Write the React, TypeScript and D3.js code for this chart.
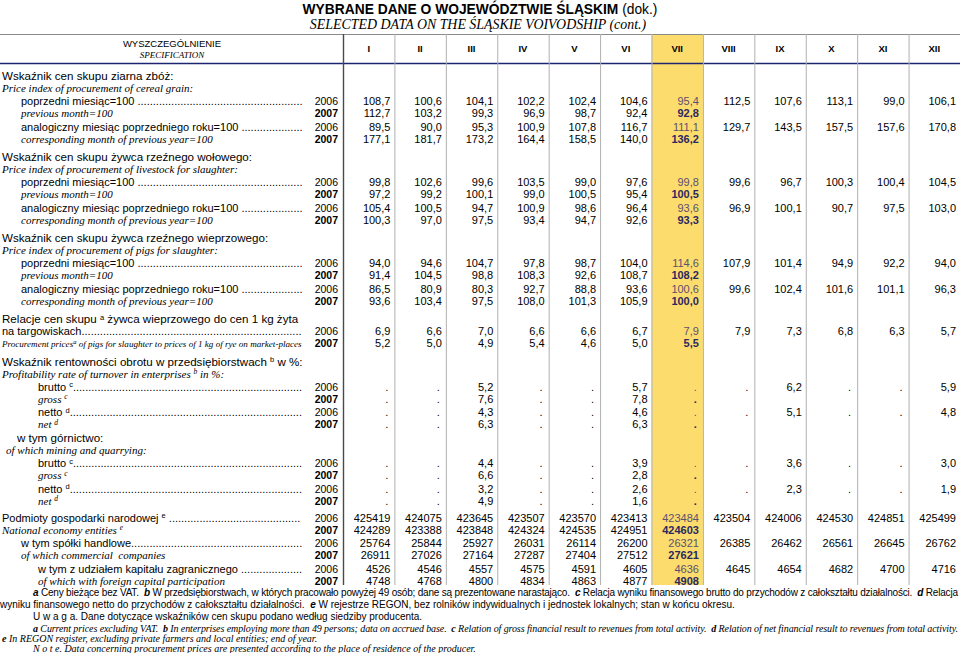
import React from 'react';
import * as d3 from 'd3';

// ---------- categories ----------
const MONTHS = ['I', 'II', 'III', 'IV', 'V', 'VI', 'VII', 'VIII', 'IX', 'X', 'XI', 'XII'];
const HIGHLIGHT = 'VII';
const YEARS = ['2006', '2007'];

// ---------- series values (null = "." data not available) ----------
const cerealPrev2006 = [108.7, 100.6, 104.1, 102.2, 102.4, 104.6, 95.4, 112.5, 107.6, 113.1, 99.0, 106.1];
const cerealPrev2007 = [112.7, 103.2, 99.3, 96.9, 98.7, 92.4, 92.8];
const cerealCorr2006 = [89.5, 90.0, 95.3, 100.9, 107.8, 116.7, 111.1, 129.7, 143.5, 157.5, 157.6, 170.8];
const cerealCorr2007 = [177.1, 181.7, 173.2, 164.4, 158.5, 140.0, 136.2];
const cattlePrev2006 = [99.8, 102.6, 99.6, 103.5, 99.0, 97.6, 99.8, 99.6, 96.7, 100.3, 100.4, 104.5];
const cattlePrev2007 = [97.2, 99.2, 100.1, 99.0, 100.5, 95.4, 100.5];
const cattleCorr2006 = [105.4, 100.5, 94.7, 100.9, 98.6, 96.4, 93.6, 96.9, 100.1, 90.7, 97.5, 103.0];
const cattleCorr2007 = [100.3, 97.0, 97.5, 93.4, 94.7, 92.6, 93.3];
const pigsPrev2006 = [94.0, 94.6, 104.7, 97.8, 98.7, 104.0, 114.6, 107.9, 101.4, 94.9, 92.2, 94.0];
const pigsPrev2007 = [91.4, 104.5, 98.8, 108.3, 92.6, 108.7, 108.2];
const pigsCorr2006 = [86.5, 80.9, 80.3, 92.7, 88.8, 93.6, 100.6, 99.6, 102.4, 101.6, 101.1, 96.3];
const pigsCorr2007 = [93.6, 103.4, 97.5, 108.0, 101.3, 105.9, 100.0];
const pigRye2006 = [6.9, 6.6, 7.0, 6.6, 6.6, 6.7, 7.9, 7.9, 7.3, 6.8, 6.3, 5.7];
const pigRye2007 = [5.2, 5.0, 4.9, 5.4, 4.6, 5.0, 5.5];
const grossAll2006 = [null, null, 5.2, null, null, 5.7, null, null, 6.2, null, null, 5.9];
const grossAll2007 = [null, null, 7.6, null, null, 7.8, null];
const netAll2006 = [null, null, 4.3, null, null, 4.6, null, null, 5.1, null, null, 4.8];
const netAll2007 = [null, null, 6.3, null, null, 6.3, null];
const grossMining2006 = [null, null, 4.4, null, null, 3.9, null, null, 3.6, null, null, 3.0];
const grossMining2007 = [null, null, 6.6, null, null, 2.8, null];
const netMining2006 = [null, null, 3.2, null, null, 2.6, null, null, 2.3, null, null, 1.9];
const netMining2007 = [null, null, 4.9, null, null, 1.6, null];
const entities2006 = [425419, 424075, 423645, 423507, 423570, 423413, 423484, 423504, 424006, 424530, 424851, 425499];
const entities2007 = [424289, 423388, 423848, 424324, 424535, 424951, 424603];
const commercial2006 = [25764, 25844, 25927, 26031, 26114, 26200, 26321, 26385, 26462, 26561, 26645, 26762];
const commercial2007 = [26911, 27026, 27164, 27287, 27404, 27512, 27621];
const foreign2006 = [4526, 4546, 4557, 4575, 4591, 4605, 4636, 4645, 4654, 4682, 4700, 4716];
const foreign2007 = [4748, 4768, 4800, 4834, 4863, 4877, 4908];

// ---------- texts ----------
const TITLE_PL = 'WYBRANE DANE O WOJEWÓDZTWIE ŚLĄSKIM';
const TITLE_PL_SUFFIX = '(dok.)';
const TITLE_EN = 'SELECTED DATA ON THE ŚLĄSKIE VOIVODSHIP (cont.)';
const HEAD_PL = 'WYSZCZEGÓLNIENIE';
const HEAD_EN = 'SPECIFICATION';

const FN_PL = [
  '*a* Ceny bieżące bez VAT.  *b* W przedsiębiorstwach, w których pracowało powyżej 49 osób; dane są prezentowane narastająco.  *c* Relacja wyniku finansowego brutto do przychodów z całokształtu działalności.  *d* Relacja',
  'wyniku finansowego netto do przychodów z całokształtu działalności.  *e* W rejestrze REGON, bez rolników indywidualnych i jednostek lokalnych; stan w końcu okresu.',
  'U w a g a. Dane dotyczące wskaźników cen skupu podano według siedziby producenta.',
];
const FN_EN = [
  '*a* Current prices excluding VAT.  *b* In enterprises employing more than 49 persons; data on accrued base.  *c* Relation of gross financial result to revenues from total activity.  *d* Relation of net financial result to revenues from total activity.',
  '*e* In REGON register, excluding private farmers and local entities; end of year.',
  'N o t e. Data concerning procurement prices are presented according to the place of residence of the producer.',
];

type Kind = 'title' | 'eng' | 'd06' | 'd07';
interface Line {
  kind: Kind;
  text: string;
  indent: number;
  sec?: boolean;
  values?: (number | null)[];
  dec?: boolean;
  leader?: boolean;
  fit?: number;
}

const L0 = 2, L1 = 21, L2 = 38;

function pair(pl: string, en: string, v06: (number | null)[], v07: (number | null)[], indent: number, dec = true, sec = false): Line[] {
  return [
    { kind: 'd06', text: pl, indent, values: v06, dec, leader: true, sec },
    { kind: 'd07', text: en, indent, values: v07, dec },
  ];
}

const LINES: Line[] = [
  { kind: 'title', text: 'Wskaźnik cen skupu ziarna zbóż:', indent: L0 },
  { kind: 'eng', text: 'Price index of procurement of cereal grain:', indent: L0 },
  ...pair('poprzedni miesiąc=100 ', 'previous month=100', cerealPrev2006, cerealPrev2007, L1),
  ...pair('analogiczny miesiąc poprzedniego roku=100 ', 'corresponding month of previous year=100', cerealCorr2006, cerealCorr2007, L1),
  { kind: 'title', text: 'Wskaźnik cen skupu żywca rzeźnego wołowego:', indent: L0, sec: true },
  { kind: 'eng', text: 'Price index of procurement of livestock for slaughter:', indent: L0 },
  ...pair('poprzedni miesiąc=100 ', 'previous month=100', cattlePrev2006, cattlePrev2007, L1),
  ...pair('analogiczny miesiąc poprzedniego roku=100 ', 'corresponding month of previous year=100', cattleCorr2006, cattleCorr2007, L1),
  { kind: 'title', text: 'Wskaźnik cen skupu żywca rzeźnego wieprzowego:', indent: L0, sec: true },
  { kind: 'eng', text: 'Price index of procurement of pigs for slaughter:', indent: L0 },
  ...pair('poprzedni miesiąc=100 ', 'previous month=100', pigsPrev2006, pigsPrev2007, L1),
  ...pair('analogiczny miesiąc poprzedniego roku=100 ', 'corresponding month of previous year=100', pigsCorr2006, pigsCorr2007, L1),
  { kind: 'title', text: 'Relacje cen skupu ^a żywca wieprzowego do cen 1 kg żyta', indent: L0, sec: true },
  { kind: 'd06', text: 'na targowiskach', indent: L0, values: pigRye2006, dec: true, leader: true },
  { kind: 'd07', text: 'Procurement prices^a of pigs for slaughter to prices of 1 kg of rye on market-places', indent: L0, values: pigRye2007, dec: true, fit: 300 },
  { kind: 'title', text: 'Wskaźnik rentowności obrotu w przedsiębiorstwach ^b w %:', indent: L0, sec: true },
  { kind: 'eng', text: 'Profitability rate of turnover in enterprises ^b in %:', indent: L0 },
  ...pair('brutto ^c', 'gross ^c', grossAll2006, grossAll2007, L2),
  ...pair('netto ^d', 'net ^d', netAll2006, netAll2007, L2),
  { kind: 'title', text: 'w tym górnictwo:', indent: 17 },
  { kind: 'eng', text: 'of which mining and quarrying:', indent: 6 },
  ...pair('brutto ^c', 'gross ^c', grossMining2006, grossMining2007, L2),
  ...pair('netto ^d', 'net ^d', netMining2006, netMining2007, L2),
  ...pair('Podmioty gospodarki narodowej ^e ', 'National economy entities ^e', entities2006, entities2007, L0, false, true),
  ...pair('w tym spółki handlowe', 'of which commercial  companies', commercial2006, commercial2007, L1, false),
  ...pair('w tym z udziałem kapitału zagranicznego ', 'of which with foreign capital participation', foreign2006, foreign2007, L2, false),
];

function gap(prev: Line, cur: Line): number {
  if (cur.sec) return cur.kind === 'title' ? 18.5 : 17;
  if (cur.kind === 'eng') return 12;
  if (cur.kind === 'title') return 14;
  if (cur.kind === 'd07') return 12;
  if (prev.kind === 'd07') return 13.5;
  if (prev.kind === 'eng') return 13;
  return 12;
}

const SANS = 'Liberation Sans, Arial, sans-serif';
const SERIF = 'Liberation Serif, Times New Roman, serif';
const fmt1 = d3.format('.1f');
const SUP = 7.5;
const LEADER_END = 303;

function fmtVal(v: number | null | undefined, dec: boolean) {
  if (v === undefined) return '';
  if (v === null) return '.';
  return dec ? fmt1(v).replace('.', ',') : String(v);
}

let measureCtx: CanvasRenderingContext2D | null = null;
function textWidth(s: string, size: number, font = '"Liberation Sans"', style = '') {
  if (!measureCtx) {
    const c = document.createElement('canvas');
    measureCtx = c.getContext('2d');
  }
  if (!measureCtx) return s.length * size * 0.5;
  measureCtx.font = `${style} ${size}px ${font}`.trim();
  return measureCtx.measureText(s).width;
}

function richWidth(text: string, size: number, font: string, style: string) {
  let w = 0;
  text.split(/(\^\w)/).filter((p) => p !== '').forEach((p) => {
    w += p.startsWith('^') ? textWidth(p.slice(1), SUP, font, style) : textWidth(p, size, font, style);
  });
  return w;
}

function leaderFor(text: string, indent: number, size: number) {
  const w = richWidth(text, size, '"Liberation Sans"', '');
  const dw = textWidth('.', size);
  const n = Math.max(0, Math.floor((LEADER_END - indent - w) / dw));
  return '.'.repeat(n);
}

// text with ^x superscripts
function rich(text: string, supSize: number, trailing = '') {
  const parts = text.split(/(\^\w)/).filter((p) => p !== '');
  const out: React.ReactNode[] = [];
  let raised = false;
  parts.forEach((p, i) => {
    if (p.startsWith('^')) {
      out.push(<tspan key={i} dy={-3.5} fontSize={supSize}>{p.slice(1)}</tspan>);
      raised = true;
    } else {
      out.push(<tspan key={i} dy={raised ? 3.5 : 0}>{p}</tspan>);
      raised = false;
    }
  });
  if (trailing) out.push(<tspan key="tr" dy={raised ? 3.5 : 0}>{trailing}</tspan>);
  return out;
}

// text with *x* bold italic letters
function marked(text: string) {
  return text.split(/(\*\w\*)/).filter((p) => p !== '').map((p, i) =>
    p.startsWith('*') ? <tspan key={i} fontWeight="bold" fontStyle="italic">{p.slice(1, -1)}</tspan> : <tspan key={i}>{p}</tspan>
  );
}

export default function App() {
  const W = 960, H = 653;
  const tableLeft = 343, tableTop = 34, tableBottom = 585;
  const x = d3.scaleBand<string>().domain(MONTHS).range([tableLeft, W]);
  const bw = x.bandwidth();

  // row layout
  const ys: number[] = [];
  LINES.forEach((ln, i) => {
    ys.push(i === 0 ? 80 : ys[i - 1] + gap(LINES[i - 1], ln));
  });

  const hiColor06 = '#5a5070';
  const hiColor07 = '#2b2860';

  // title layout (bold part + regular suffix, centred together)
  const titleSize = 13.8;
  const tW1 = textWidth(TITLE_PL, titleSize, '"Liberation Sans"', 'bold');
  const tSp = textWidth(' ', titleSize);
  const tW2 = textWidth(TITLE_PL_SUFFIX, titleSize);
  const tStart = 480 - (tW1 + tSp + tW2) / 2;

  return (
    <svg width={W} height={H} style={{ position: 'absolute', left: 0, top: 0, background: '#fff' }}>
      <rect x={0} y={0} width={W} height={H} fill="#fff" />

      {/* titles */}
      <text x={tStart} y={13.5} fontFamily={SANS} fontSize={titleSize} fontWeight="bold" fill="#000">{TITLE_PL}</text>
      <text x={tStart + tW1 + tSp} y={13.5} fontFamily={SANS} fontSize={titleSize} fill="#000">{TITLE_PL_SUFFIX}</text>
      <text x={478} y={29} textAnchor="middle" fontFamily={SERIF} fontStyle="italic" fontSize={13.9} fill="#000">
        {TITLE_EN}
      </text>

      {/* highlighted column */}
      <rect x={x(HIGHLIGHT)!} y={tableTop} width={bw} height={tableBottom - tableTop} fill="#fddc6e" />

      {/* header rules */}
      <line x1={0} x2={W} y1={tableTop + 0.5} y2={tableTop + 0.5} stroke="#8a8a8a" strokeWidth={1} />
      <line x1={0} x2={W} y1={63.5} y2={63.5} stroke="#1c2570" strokeWidth={1.5} />

      {/* vertical grid */}
      {MONTHS.map((m, i) => (
        <line key={m} x1={x(m)! + 0.5} x2={x(m)! + 0.5} y1={tableTop} y2={tableBottom}
          stroke={i === 0 ? '#4a4a4a' : '#b0b0b0'} strokeWidth={i === 0 ? 1.4 : 1} />
      ))}

      {/* header text */}
      <text x={172} y={47} textAnchor="middle" fontFamily={SANS} fontSize={9.5} fill="#000">{HEAD_PL}</text>
      <text x={172} y={57.5} textAnchor="middle" fontFamily={SERIF} fontStyle="italic" fontSize={9} fill="#000">{HEAD_EN}</text>
      {MONTHS.map((m) => (
        <text key={m} x={x(m)! + bw / 2} y={52} textAnchor="middle" fontFamily={SANS} fontWeight="bold" fontSize={9.5} fill="#000">{m}</text>
      ))}

      {/* rows */}
      {LINES.map((ln, i) => {
        const y = ys[i];
        const isPl = ln.kind === 'title' || ln.kind === 'd06';
        const family = isPl ? SANS : SERIF;
        let fs = ln.kind === 'title' ? 11.6 : 11;
        if (ln.fit) {
          const w = richWidth(ln.text, fs, '"Liberation Serif"', 'italic');
          fs = Math.min(fs, (fs * ln.fit) / w);
        }
        const leader = ln.leader ? leaderFor(ln.text, ln.indent, fs) : '';
        const year = ln.kind === 'd06' ? YEARS[0] : ln.kind === 'd07' ? YEARS[1] : null;
        return (
          <g key={i}>
            <text x={ln.indent} y={y} fontFamily={family} fontStyle={isPl ? 'normal' : 'italic'} fontSize={fs}
              fill="#000" style={{ whiteSpace: 'pre' }}>
              {rich(ln.text, ln.fit ? 6.5 : SUP, leader)}
            </text>
            {year && (
              <text x={338} y={y} textAnchor="end" fontFamily={SANS} fontSize={10.5}
                fontWeight={year === YEARS[1] ? 'bold' : 'normal'} fill="#000">{year}</text>
            )}
            {ln.values && MONTHS.map((m, j) => {
              const s = fmtVal(ln.values![j], !!ln.dec);
              if (!s) return null;
              const hi = m === HIGHLIGHT;
              const is07 = ln.kind === 'd07';
              return (
                <text key={m} x={x(m)! + bw - (s === '.' ? 6 : 4)} y={y} textAnchor="end" fontFamily={SANS} fontSize={11}
                  fontWeight={hi && is07 ? 'bold' : 'normal'}
                  fill={hi ? (is07 ? hiColor07 : hiColor06) : '#000'}>{s}</text>
              );
            })}
          </g>
        );
      })}

      {/* footnotes */}
      {FN_PL.map((t, i) => (
        <text key={'p' + i} x={i === 1 ? 0 : 33} y={595.5 + i * 12.3} fontFamily={SANS} fontSize={10} fill="#000"
          style={{ whiteSpace: 'pre' }} textLength={i === 0 ? 925 : undefined} lengthAdjust="spacing">
          {marked(t)}
        </text>
      ))}
      {FN_EN.map((t, i) => (
        <text key={'e' + i} x={i === 1 ? 2 : 33} y={632 + i * 9.8} fontFamily={SERIF} fontStyle="italic" fontSize={10} fill="#000"
          style={{ whiteSpace: 'pre' }} textLength={i === 0 ? 925 : undefined} lengthAdjust="spacing">
          {marked(t)}
        </text>
      ))}
    </svg>
  );
}
